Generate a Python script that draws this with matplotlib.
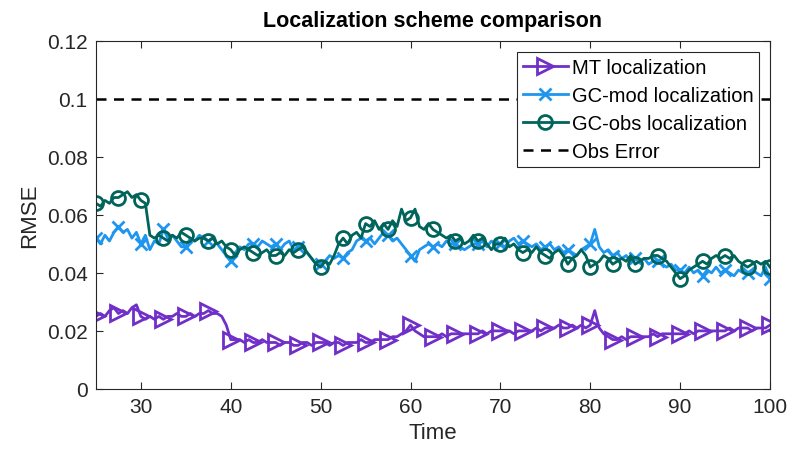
import numpy as np
import matplotlib.pyplot as plt

plt.rcParams['font.family'] = ['Liberation Sans', 'DejaVu Sans']

# time axis, one sample every half step
time = np.arange(25, 100.01, 0.5)

mt_rmse = [
    0.025, 0.026, 0.025, 0.027, 0.028, 0.026, 0.027, 0.026, 0.028, 0.029,
    0.025, 0.024, 0.025, 0.024, 0.025, 0.024, 0.025, 0.025, 0.026, 0.025,
    0.025, 0.026, 0.025, 0.026, 0.026, 0.027, 0.026, 0.026, 0.025, 0.022,
    0.017, 0.017, 0.017, 0.016, 0.017, 0.016, 0.016, 0.017, 0.016, 0.016,
    0.016, 0.015, 0.016, 0.016, 0.015, 0.015, 0.016, 0.016, 0.015, 0.016,
    0.016, 0.016, 0.015, 0.016, 0.016, 0.015, 0.016, 0.016, 0.016, 0.017,
    0.016, 0.016, 0.017, 0.017, 0.017, 0.017, 0.018, 0.018, 0.019, 0.020,
    0.022, 0.020, 0.019, 0.018, 0.018, 0.018, 0.018, 0.019, 0.018, 0.019,
    0.019, 0.019, 0.019, 0.019, 0.019, 0.019, 0.020, 0.019, 0.020, 0.020,
    0.020, 0.020, 0.020, 0.019, 0.020, 0.020, 0.020, 0.020, 0.021, 0.020,
    0.021, 0.021, 0.021, 0.022, 0.021, 0.021, 0.022, 0.021, 0.022, 0.021,
    0.022, 0.027, 0.021, 0.019, 0.018, 0.017, 0.017, 0.018, 0.017, 0.018,
    0.018, 0.018, 0.018, 0.018, 0.019, 0.018, 0.019, 0.019, 0.019, 0.019,
    0.019, 0.019, 0.020, 0.019, 0.020, 0.020, 0.020, 0.020, 0.020, 0.020,
    0.020, 0.021, 0.020, 0.021, 0.021, 0.021, 0.020, 0.021, 0.021, 0.021,
    0.022,
]

gc_mod_rmse = [
    0.052, 0.050, 0.053, 0.051, 0.054, 0.056, 0.054, 0.055, 0.052, 0.054,
    0.050, 0.053, 0.048, 0.051, 0.050, 0.055, 0.052, 0.053, 0.051, 0.049,
    0.049, 0.052, 0.051, 0.053, 0.052, 0.051, 0.052, 0.050, 0.048, 0.046,
    0.044, 0.047, 0.049, 0.048, 0.050, 0.050, 0.049, 0.051, 0.050, 0.049,
    0.050, 0.048, 0.050, 0.051, 0.048, 0.049, 0.049, 0.047, 0.045, 0.043,
    0.043, 0.044, 0.046, 0.045, 0.046, 0.045, 0.047, 0.048, 0.051, 0.052,
    0.051, 0.052, 0.050, 0.052, 0.054, 0.053, 0.051, 0.052, 0.050, 0.048,
    0.046, 0.044, 0.048, 0.049, 0.050, 0.049, 0.050, 0.049, 0.051, 0.050,
    0.050, 0.049, 0.048, 0.049, 0.050, 0.050, 0.051, 0.049, 0.051, 0.050,
    0.050, 0.049, 0.051, 0.052, 0.050, 0.051, 0.050, 0.049, 0.050, 0.048,
    0.049, 0.050, 0.048, 0.049, 0.047, 0.048, 0.047, 0.046, 0.048, 0.049,
    0.050, 0.055, 0.049, 0.047, 0.048, 0.046, 0.047, 0.045, 0.046, 0.044,
    0.045, 0.044, 0.045, 0.043, 0.044, 0.044, 0.043, 0.042, 0.043, 0.041,
    0.041, 0.040, 0.042, 0.040, 0.041, 0.039, 0.041, 0.040, 0.042, 0.040,
    0.041, 0.040, 0.039, 0.041, 0.040, 0.040, 0.041, 0.040, 0.039, 0.042,
    0.038,
]

gc_obs_rmse = [
    0.064, 0.063, 0.065, 0.064, 0.066, 0.066, 0.067, 0.068, 0.066, 0.067,
    0.065, 0.064, 0.053, 0.052, 0.053, 0.052, 0.051, 0.053, 0.052, 0.054,
    0.053, 0.052, 0.051, 0.052, 0.052, 0.051, 0.052, 0.050, 0.051, 0.049,
    0.048, 0.046, 0.048, 0.049, 0.048, 0.047, 0.046, 0.047, 0.048, 0.046,
    0.046, 0.047, 0.046, 0.048, 0.047, 0.048, 0.049, 0.047, 0.045, 0.043,
    0.042, 0.044, 0.043, 0.046, 0.050, 0.052, 0.050, 0.053, 0.054, 0.052,
    0.057, 0.056, 0.058, 0.055, 0.057, 0.055, 0.058, 0.056, 0.062, 0.058,
    0.059, 0.062, 0.056, 0.055, 0.057, 0.055, 0.054, 0.053, 0.052, 0.053,
    0.051, 0.052, 0.050, 0.051, 0.053, 0.051, 0.052, 0.050, 0.048, 0.050,
    0.050, 0.052, 0.049, 0.050, 0.048, 0.047, 0.048, 0.047, 0.049, 0.047,
    0.046, 0.045, 0.047, 0.048, 0.046, 0.043, 0.045, 0.046, 0.048, 0.046,
    0.042, 0.043, 0.044, 0.046, 0.045, 0.043, 0.044, 0.045, 0.044, 0.046,
    0.043, 0.044, 0.045, 0.045, 0.046, 0.046, 0.045, 0.044, 0.042, 0.040,
    0.038, 0.039, 0.041, 0.042, 0.043, 0.044, 0.043, 0.045, 0.046, 0.045,
    0.046, 0.045, 0.046, 0.044, 0.043, 0.042, 0.043, 0.044, 0.043, 0.044,
    0.042,
]

obs_error = 0.1

fig = plt.figure(figsize=(7.93, 4.56), dpi=100)
ax = fig.add_axes([0.121, 0.145, 0.850, 0.763])

ax.plot(time, mt_rmse, color='#7030c8', lw=2, marker='>', markersize=11,
        markerfacecolor='none', markeredgewidth=2, markevery=5,
        label='MT localization')
ax.plot(time, gc_mod_rmse, color='#1e96f0', lw=2, marker='x', markersize=8,
        markeredgewidth=2, markevery=5, label='GC-mod localization')
ax.plot(time, gc_obs_rmse, color='#00645a', lw=2, marker='o', markersize=10,
        markerfacecolor='none', markeredgewidth=2, markevery=5,
        label='GC-obs localization')
ax.axhline(obs_error, color='black', ls=(0, (4, 3)), lw=1.8, label='Obs Error')

ax.set_xlim(25, 100)
ax.set_ylim(0, 0.12)
ax.set_xticks([30, 40, 50, 60, 70, 80, 90, 100])
ax.set_yticks([0, 0.02, 0.04, 0.06, 0.08, 0.1, 0.12])
ax.set_yticklabels(['0', '0.02', '0.04', '0.06', '0.08', '0.1', '0.12'])
ax.tick_params(direction='in', top=True, right=True, labelsize=15,
               colors='#262626', length=5, pad=6)
for s in ax.spines.values():
    s.set_color('#262626')
    s.set_linewidth(0.8)

ax.set_xlabel('Time', fontsize=16, color='#262626', labelpad=4)
ax.set_ylabel('RMSE', fontsize=16, color='#262626', labelpad=5)
ax.set_title('Localization scheme comparison', fontsize=15.5,
             fontweight='bold', pad=11)

leg = ax.legend(loc='upper right', bbox_to_anchor=(0.984, 0.968),
                fontsize=14.5, fancybox=False, framealpha=1,
                edgecolor='#262626', borderpad=0.3, labelspacing=0.45,
                handlelength=2.2, handletextpad=0.2, borderaxespad=0)
leg.get_frame().set_linewidth(0.8)

fig.savefig('out.png', dpi=100)
